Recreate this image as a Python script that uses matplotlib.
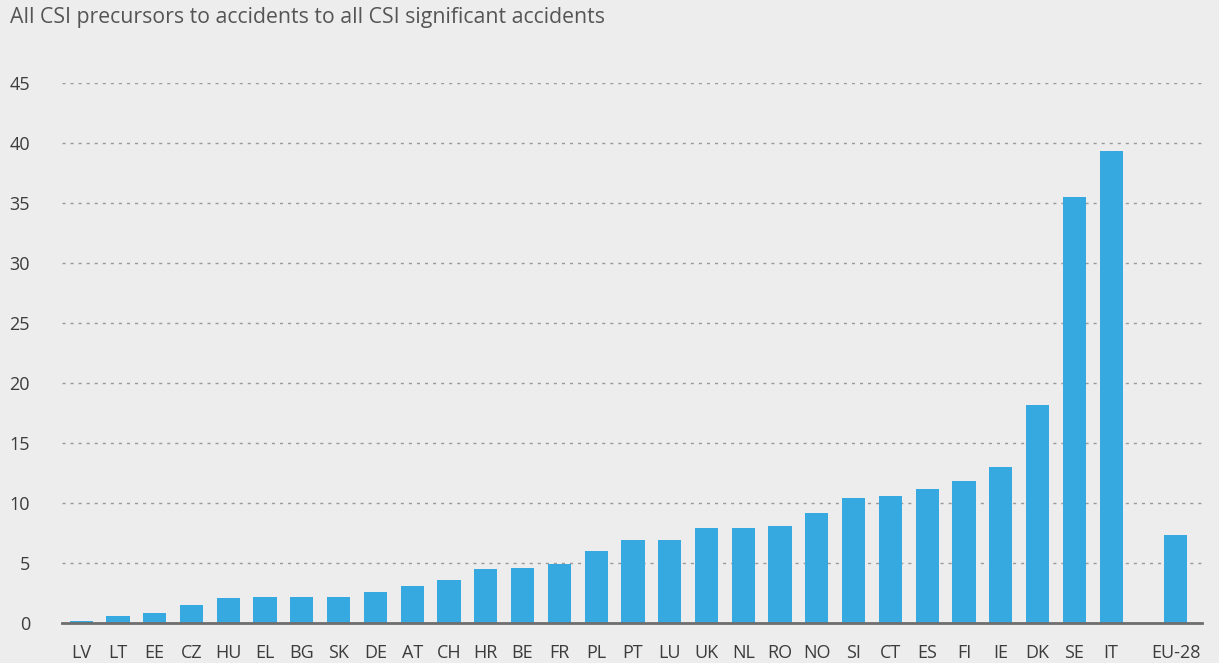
import matplotlib.pyplot as plt
import numpy as np

# data
countries = ['LV', 'LT', 'EE', 'CZ', 'HU', 'EL', 'BG', 'SK', 'DE', 'AT',
             'CH', 'HR', 'BE', 'FR', 'PL', 'PT', 'LU', 'UK', 'NL', 'RO',
             'NO', 'SI', 'CT', 'ES', 'FI', 'IE', 'DK', 'SE', 'IT']
values = [0.2, 0.6, 0.8, 1.5, 2.1, 2.2, 2.2, 2.2, 2.6, 3.1,
          3.6, 4.5, 4.6, 4.9, 6.0, 6.9, 6.9, 7.9, 7.9, 8.1,
          9.2, 10.4, 10.6, 11.2, 11.8, 13.0, 18.2, 35.5, 39.3]
eu_label = 'EU-28'
eu_value = 7.3
yticks = [0, 5, 10, 15, 20, 25, 30, 35, 40, 45]

bg = '#ededed'
blue = '#36a9e0'
plt.rcParams['font.family'] = ['Open Sans', 'DejaVu Sans']

fig = plt.figure(figsize=(12.19, 6.63), dpi=100, facecolor=bg)
ax = fig.add_axes([62/1219, 40/663, 1140/1219, 540/663])
ax.set_facecolor(bg)

# countries, then a gap, then the EU average
x = np.arange(len(countries))
x_eu = len(countries) + 0.75
ax.bar(x, values, width=0.63, color=blue, zorder=3)
ax.bar([x_eu], [eu_value], width=0.63, color=blue, zorder=3)

ax.set_xlim(-0.52, x_eu + 0.72)
ax.set_ylim(0, 45)
ax.set_yticks(yticks)
ax.set_xticks(list(x) + [x_eu])
ax.set_xticklabels(countries + [eu_label])

ax.grid(axis='y', color='#9a9a9a', linewidth=1.0, linestyle=(0, (2.2, 3.6)), zorder=0)
for s in ['top', 'right', 'left']:
    ax.spines[s].set_visible(False)
ax.spines['bottom'].set_color('#6e6e6e')
ax.spines['bottom'].set_linewidth(2)
ax.spines['bottom'].set_zorder(4)

ax.tick_params(axis='both', length=0, labelsize=13, labelcolor='#3c3c3c')
ax.tick_params(axis='y', pad=23)
ax.tick_params(axis='x', pad=15)
for lbl in ax.get_yticklabels():
    lbl.set_horizontalalignment('right')

fig.text(10/1219, 1 - 7/663, 'All CSI precursors to accidents to all CSI significant accidents',
         fontsize=15.3, color='#555555', va='top', ha='left')

plt.savefig('out.png', dpi=100, facecolor=bg)
